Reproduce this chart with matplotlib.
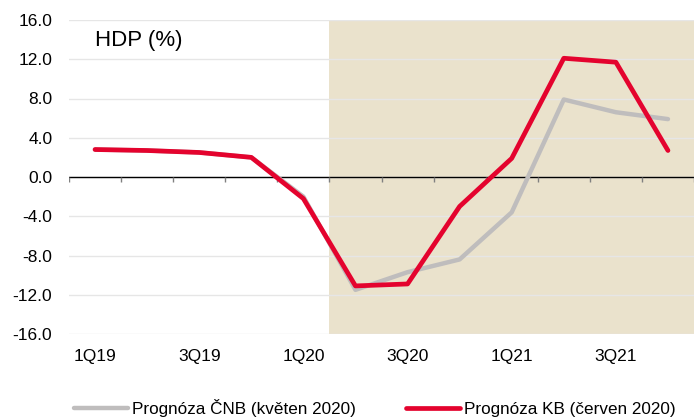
import numpy as np
import matplotlib.pyplot as plt

plt.rcParams['font.family'] = ['Liberation Sans', 'DejaVu Sans']

# Quarters and forecasts (HDP, %)
quarters = ["1Q19", "2Q19", "3Q19", "4Q19", "1Q20", "2Q20",
            "3Q20", "4Q20", "1Q21", "2Q21", "3Q21", "4Q21"]
cnb = [2.8, 2.7, 2.5, 2.0, -2.0, -11.5, -9.7, -8.4, -3.6, 7.9, 6.6, 5.9]
kb = [2.8, 2.7, 2.5, 2.0, -2.2, -11.1, -10.9, -3.0, 1.9, 12.1, 11.7, 2.7]
forecast_start = 5  # first forecast quarter (2Q20)

x = np.arange(len(quarters))

fig = plt.figure(figsize=(6.94, 4.17), dpi=100)
ax = fig.add_axes([69 / 694, 83 / 417, 625 / 694, 314 / 417])

# forecast area shading
ax.axvspan(forecast_start - 0.5, len(quarters) - 0.5, color='#EAE2CC', zorder=0, lw=0)

# grid
for y in np.arange(-16, 17, 4):
    ax.axhline(y, color='#E6E6E6', lw=1, zorder=1)
ax.axhline(0, color='black', lw=1, zorder=2)

# small tick marks on the zero line between quarters
bounds = np.arange(len(quarters) + 1) - 0.5
ax.vlines(bounds, -0.55, 0, color='#808080', lw=1, zorder=2)

ax.plot(x, cnb, color='#BFBDBD', lw=3.2, solid_capstyle='round',
        label='Prognóza ČNB (květen 2020)', zorder=3)
ax.plot(x, kb, color='#E4032E', lw=3.4, solid_capstyle='round',
        label='Prognóza KB (červen 2020)', zorder=4)

ax.set_xlim(-0.5, len(quarters) - 0.5)
ax.set_ylim(-16, 16)
ax.set_yticks(np.arange(-16, 17, 4))
ax.set_yticklabels([f"{v:.1f}" for v in np.arange(-16, 17, 4)], fontsize=12.5)
ax.set_xticks(x[::2])
ax.set_xticklabels(quarters[::2], fontsize=12.5)
ax.tick_params(axis='both', length=0)
ax.tick_params(axis='y', pad=12)
ax.tick_params(axis='x', pad=11)
for s in ax.spines.values():
    s.set_visible(False)

ax.text(0.042, 0.936, "HDP (%)", transform=ax.transAxes, fontsize=16,
        va='center', ha='left')

fig.legend(loc='center', bbox_to_anchor=(0.54, 0.022), ncol=2, frameon=False,
           fontsize=12.3, handlelength=3.2, handletextpad=0.23, columnspacing=2.9)

fig.savefig('out.png', dpi=100)
